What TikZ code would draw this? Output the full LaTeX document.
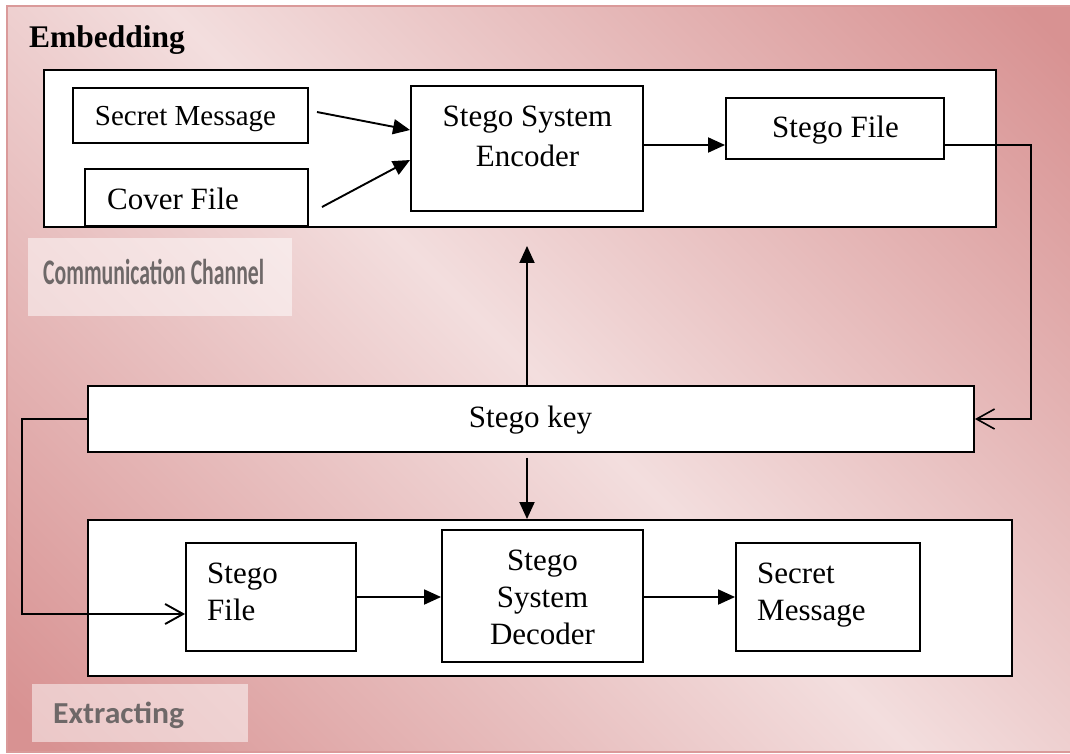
\documentclass[tikz,border=0pt]{standalone}
\usepackage{fontspec}
\usepackage{graphicx}
\setmainfont{Liberation Serif}
\newfontfamily\calib{Carlito}
\usetikzlibrary{arrows.meta}
\definecolor{bgdark}{HTML}{D89292}
\definecolor{bglight}{HTML}{F3DEDE}
\definecolor{framecol}{HTML}{DA9A9A}
\definecolor{labtext}{HTML}{6E6868}
\newcommand{\mylines}[2]{\begin{tabular}[t]{@{}#1@{}}#2\end{tabular}}
\tikzset{
  box/.style={draw=black, line width=1.9pt, fill=white, inner sep=0pt},
  txt/.style={inner sep=0pt, text=black, font=\fontsize{31}{37}\selectfont},
  labbox/.style={fill=white, fill opacity=0.5, inner sep=0pt},
  labtxt/.style={inner sep=0pt, text=labtext},
  arr/.style={line width=1.9pt, -{Triangle[length=17pt,width=15pt]}},
  oarr/.style={line width=1.9pt, -{Straight Barb[length=18pt,width=20pt]}}
}
\begin{document}
\begin{tikzpicture}[x=1pt,y=-1pt]
\useasboundingbox (0,0) rectangle (1070,753);
% background
\begin{scope}
\clip (7,6) rectangle (1072,752);
\shade[top color=bgdark, bottom color=bgdark, middle color=bglight, shading angle=-45] (-180,-125) rectangle (1259,883);
\end{scope}
\draw[framecol, line width=2pt] (7,6) rectangle (1072,752);
% label boxes
\node[labbox, minimum width=264pt, minimum height=78pt, anchor=north west] (ccBox) at (28,238) {};
\node[labtxt, anchor=base west] (ccT) at (43,284) {\resizebox{221pt}{\height}{\calib\bfseries\fontsize{36}{42}\selectfont Communication Channel}};
\node[labbox, minimum width=216pt, minimum height=58pt, anchor=north west] (exBox) at (32,684) {};
\node[labtxt, anchor=base west] (exT) at (53,723) {\resizebox{131pt}{\height}{\calib\bfseries\fontsize{30.5}{36}\selectfont Extracting}};
% panels
\node[box, minimum width=952pt, minimum height=157pt] (tp) at (520,148.5) {};
\node[box, minimum width=886pt, minimum height=66pt] (key) at (531,419) {};
\node[box, minimum width=924pt, minimum height=156pt] (bp) at (550,598) {};
% top boxes
\node[box, minimum width=235pt, minimum height=55pt] (sm) at (190.5,115.5) {};
\node[box, minimum width=223pt, minimum height=57pt] (cf) at (196.5,197.5) {};
\node[box, minimum width=232pt, minimum height=125pt] (enc) at (527,148.5) {};
\node[box, minimum width=218pt, minimum height=61pt] (sf) at (835,128.5) {};
% bottom boxes
\node[box, minimum width=170pt, minimum height=108pt] (bsf) at (271,597) {};
\node[box, minimum width=201pt, minimum height=132pt] (dec) at (542.5,596) {};
\node[box, minimum width=184pt, minimum height=108pt] (bsm) at (828,597) {};
% texts
\node[txt, font=\bfseries\fontsize{31.5}{37}\selectfont, anchor=base west] (emb) at (29,47) {Embedding};
\node[txt, font=\fontsize{29}{35}\selectfont, anchor=base] (smT) at (185.5,125) {Secret Message};
\node[txt, anchor=base west] (cfT) at (107,209) {Cover File};
\node[txt, anchor=base] (encT) at (527.5,126) {\mylines{c}{Stego System\\[3pt]Encoder}};
\node[txt, anchor=base] (sfT) at (835.5,137) {Stego File};
\node[txt, anchor=base] (keyT) at (530.5,427) {Stego key};
\node[txt, anchor=base west] (bsfT) at (207,583) {\mylines{l}{Stego\\File}};
\node[txt, anchor=base] (decT) at (542.5,570) {\mylines{c}{Stego\\System\\Decoder}};
\node[txt, anchor=base west] (bsmT) at (757,583) {\mylines{l}{Secret\\Message}};
% connectors
\draw[arr] ([xshift=8pt,yshift=3.5pt]sm.east) -- ([yshift=18.5pt]enc.west);
\draw[arr] ([xshift=13pt,yshift=-9.5pt]cf.east) -- ([yshift=-11.5pt]enc.west);
\draw[arr] ([yshift=3.5pt]enc.east) -- ([yshift=3.5pt]enc.east -| sf.west);
\coordinate (rt) at (1031,145);
\draw[oarr, line width=1.6pt] (rt -| sf.east) -- (rt) |- (key.east);
\draw[arr] (enc.south |- key.north) -- ([yshift=-34pt]enc.south);
\draw[arr] ([yshift=-5pt]enc.south |- key.south) -- (enc.south |- bp.north);
\coordinate (lc) at (22,419);
\draw[oarr] (key.west) -- (lc) |- ([yshift=-17pt]bsf.west);
\draw[arr] (bsf.east) -- (bsf.east -| dec.west);
\draw[arr] (bsm.west -| dec.east) -- (bsm.west);
\end{tikzpicture}
\end{document}
